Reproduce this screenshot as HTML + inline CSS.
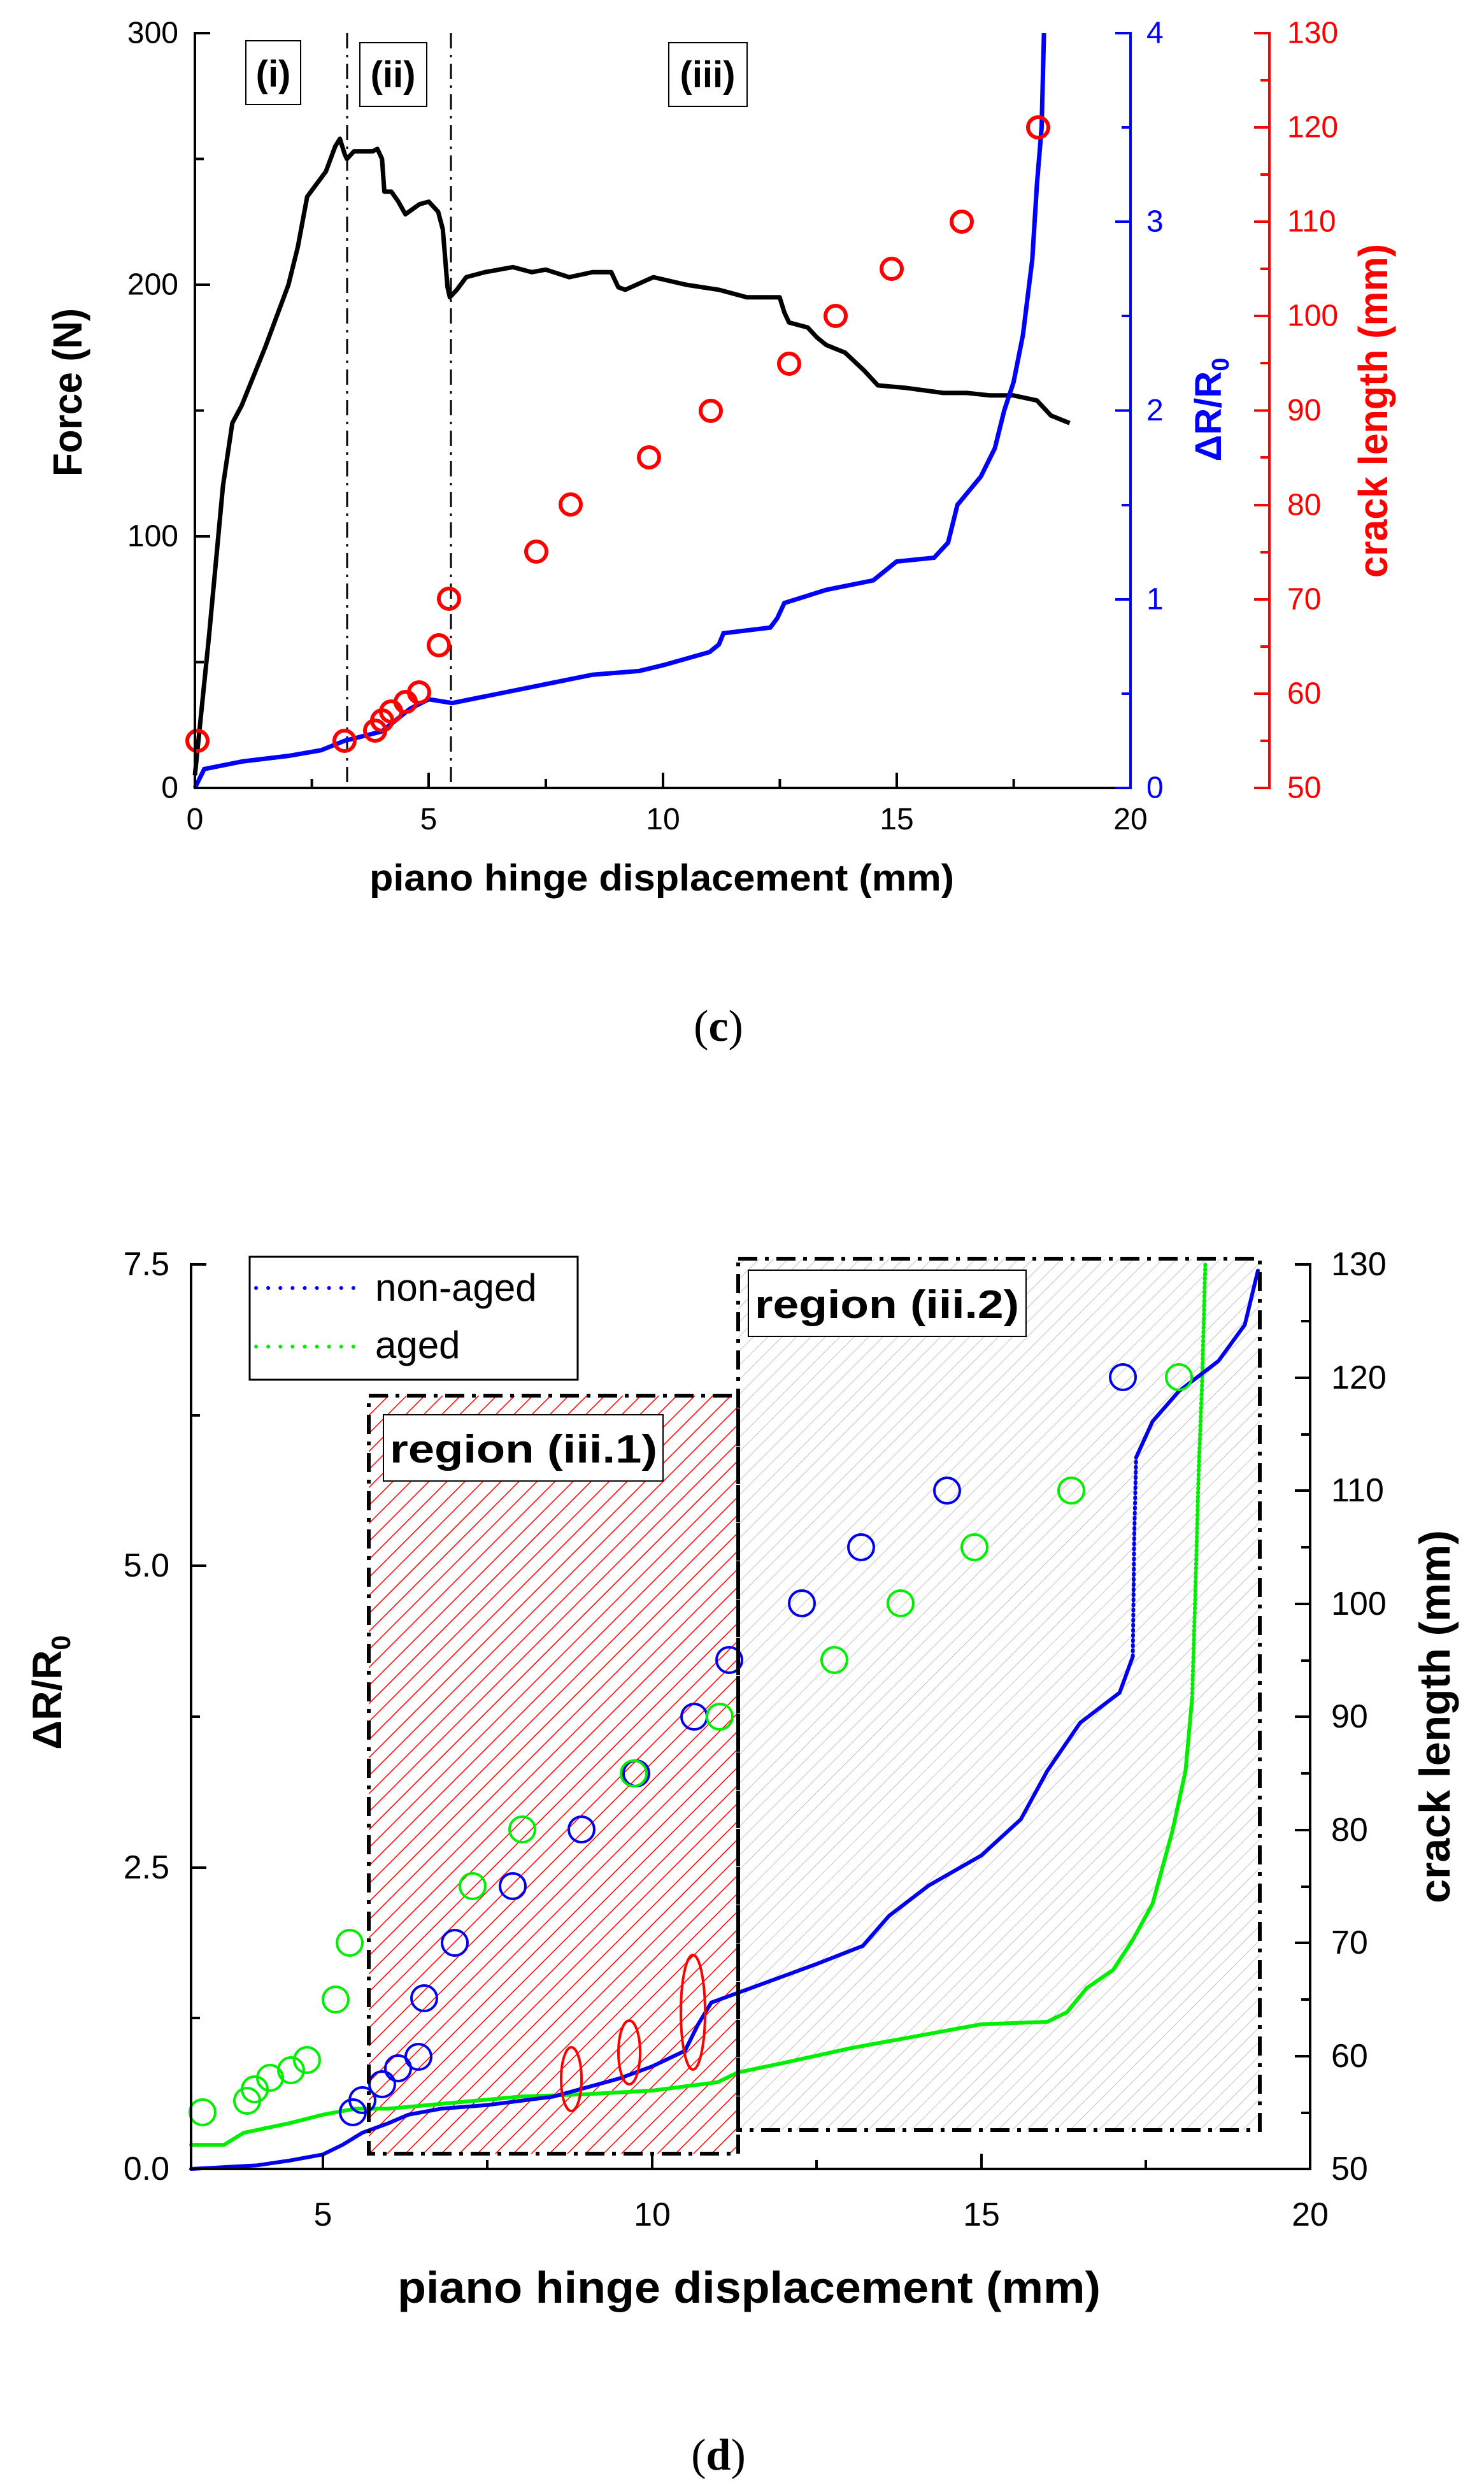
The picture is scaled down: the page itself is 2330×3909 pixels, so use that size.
<!DOCTYPE html>
<html><head><meta charset="utf-8"><style>html,body{margin:0;padding:0;background:#fff}svg{display:block}</style></head>
<body>
<svg width="2330" height="3909" viewBox="0 0 2330 3909" xmlns="http://www.w3.org/2000/svg" font-family="Liberation Sans, Arial, sans-serif">
<defs>
<pattern id="hr" width="20" height="20" patternUnits="userSpaceOnUse" patternTransform="rotate(45)"><line x1="0" y1="0" x2="0" y2="20" stroke="#ff0000" stroke-width="3"/></pattern>
<pattern id="hg" width="16" height="16" patternUnits="userSpaceOnUse" patternTransform="rotate(45)"><line x1="0" y1="0" x2="0" y2="16" stroke="#b4b4b4" stroke-width="1.6"/></pattern>
</defs>
<rect width="2330" height="3909" fill="#fff"/>

<!-- ================= CHART C ================= -->
<line x1="545" y1="52" x2="545" y2="1237" stroke="#000" stroke-width="3" stroke-dasharray="24 10 4 10"/>
<line x1="708" y1="52" x2="708" y2="1237" stroke="#000" stroke-width="3" stroke-dasharray="24 10 4 10"/>
<g transform="matrix(73.45 0 0 -3.95 306 1237)">
<polyline fill="none" stroke="#000" stroke-width="7" vector-effect="non-scaling-stroke" stroke-linejoin="round" points="0,5 0.3,60 0.6,120 0.8,145 1.0,152 1.5,175 2.0,200 2.2,215 2.4,235 2.6,240 2.8,245 3.0,255 3.1,258 3.2,252 3.25,250 3.4,253 3.8,253 3.9,254 4.0,250 4.05,237 4.2,237 4.35,233 4.5,228 4.8,232 5.0,233 5.2,229 5.3,222 5.4,199 5.45,195 5.6,198 5.8,203 6.2,205 6.5,206 6.8,207 7.2,205 7.5,206 8.0,203 8.5,205 8.9,205 9.05,199 9.2,198 9.8,203 10.5,200 11.2,198 11.8,195 12.5,195 12.6,189 12.7,185 13.1,183 13.3,179 13.5,176 13.9,173 14.3,166 14.6,160 15.2,159 16,157 16.5,157 17,156 17.5,156 18,154 18.3,148 18.7,145"/>
</g>
<g transform="matrix(73.45 0 0 -296.25 306 1237)">
<polyline fill="none" stroke="#0000ff" stroke-width="7" vector-effect="non-scaling-stroke" points="0,0 0.2,0.1 1,0.14 2,0.17 2.7,0.2 3.2,0.25 4,0.3 4.6,0.42 5.0,0.47 5.5,0.45 6.5,0.5 7.5,0.55 8.5,0.6 9.5,0.62 10,0.65 11,0.72 11.2,0.76 11.3,0.82 12.3,0.85 12.45,0.9 12.6,0.98 13.5,1.05 14.5,1.1 14.7,1.14 15.0,1.2 15.8,1.22 16.1,1.3 16.3,1.5 16.8,1.65 17.1,1.8 17.3,2.0 17.5,2.15 17.7,2.4 17.9,2.8 18.0,3.2 18.1,3.5 18.15,4.0"/>
</g>
<g fill="none" stroke="#ff0000" stroke-width="6">
<circle cx="310" cy="1163" r="16"/><circle cx="541" cy="1163" r="16"/><circle cx="589" cy="1147" r="16"/><circle cx="600" cy="1131" r="16"/><circle cx="614" cy="1117" r="16"/><circle cx="637" cy="1102" r="16"/><circle cx="658" cy="1087" r="16"/><circle cx="689" cy="1013" r="16"/><circle cx="705" cy="940" r="16"/><circle cx="842" cy="866" r="16"/><circle cx="896" cy="792" r="16"/><circle cx="1019" cy="718" r="16"/><circle cx="1116" cy="645" r="16"/><circle cx="1239" cy="571" r="16"/><circle cx="1312" cy="496" r="16"/><circle cx="1400" cy="422" r="16"/><circle cx="1510" cy="348" r="16"/><circle cx="1630" cy="200" r="16"/>
</g>
<g stroke="#000" stroke-width="4" fill="none">
<line x1="306" y1="50" x2="306" y2="1239"/>
<line x1="304" y1="1237" x2="1775" y2="1237"/>
<path d="M306 52h24M306 447h24M306 842h24M306 1237h24M306 249.5h14M306 644.5h14M306 1039.5h14"/>
<path d="M306 1237v-24M673 1237v-24M1041 1237v-24M1408 1237v-24M1775 1237v-24M489.6 1237v-14M857 1237v-14M1224.4 1237v-14M1591.6 1237v-14"/>
</g>
<g stroke="#0000ff" stroke-width="4" fill="none">
<line x1="1775" y1="50" x2="1775" y2="1239"/>
<path d="M1775 52h-24M1775 348h-24M1775 644.5h-24M1775 941h-24M1775 1237h-24M1775 200h-14M1775 496h-14M1775 793h-14M1775 1089h-14"/>
</g>
<g stroke="#ff0000" stroke-width="4" fill="none">
<line x1="1993" y1="50" x2="1993" y2="1239"/>
<path d="M1993 52h-24M1993 200h-24M1993 348h-24M1993 496h-24M1993 644.5h-24M1993 793h-24M1993 941h-24M1993 1089h-24M1993 1237h-24M1993 126h-14M1993 274h-14M1993 422h-14M1993 570h-14M1993 718h-14M1993 867h-14M1993 1015h-14M1993 1163h-14"/>
</g>
<g font-size="48" fill="#000" text-anchor="end" dominant-baseline="central">
<text x="280" y="52">300</text><text x="280" y="447">200</text><text x="280" y="842">100</text><text x="280" y="1237">0</text>
</g>
<g font-size="48" fill="#000" text-anchor="middle">
<text x="306" y="1302">0</text><text x="673" y="1302">5</text><text x="1041" y="1302">10</text><text x="1408" y="1302">15</text><text x="1775" y="1302">20</text>
</g>
<g font-size="48" fill="#0000ff" dominant-baseline="central">
<text x="1800" y="52">4</text><text x="1800" y="348">3</text><text x="1800" y="644.5">2</text><text x="1800" y="941">1</text><text x="1800" y="1237">0</text>
</g>
<g font-size="48" fill="#ff0000" dominant-baseline="central">
<text x="2021" y="52">130</text><text x="2021" y="200">120</text><text x="2021" y="348">110</text><text x="2021" y="496">100</text><text x="2021" y="644.5">90</text><text x="2021" y="793">80</text><text x="2021" y="941">70</text><text x="2021" y="1089">60</text><text x="2021" y="1237">50</text>
</g>
<g fill="#fff" stroke="#000" stroke-width="2">
<rect x="386" y="64" width="86" height="100"/><rect x="565" y="67" width="105" height="100"/><rect x="1050" y="67" width="123" height="100"/>
</g>
<g font-size="58" font-weight="bold" text-anchor="middle">
<text x="429" y="136">(i)</text><text x="617" y="137">(ii)</text><text x="1111" y="137">(iii)</text>
</g>
<text x="580" y="1398" font-size="58" font-weight="bold" textLength="918" lengthAdjust="spacingAndGlyphs">piano hinge displacement (mm)</text>
<text transform="translate(128,616) rotate(-90)" font-size="64" font-weight="bold" text-anchor="middle" textLength="264" lengthAdjust="spacingAndGlyphs">Force (N)</text>
<text transform="translate(1917,643) rotate(-90)" font-size="58" font-weight="bold" fill="#0000ff" text-anchor="middle">ΔR/R<tspan font-size="38" dy="12">0</tspan></text>
<text transform="translate(2178,645) rotate(-90)" font-size="64" font-weight="bold" fill="#ff0000" text-anchor="middle" textLength="524" lengthAdjust="spacingAndGlyphs">crack length (mm)</text>
<text x="1128" y="1634" font-size="70" font-family="Liberation Serif, serif" text-anchor="middle">(<tspan font-weight="bold">c</tspan>)</text>

<!-- ================= CHART D ================= -->
<rect x="579" y="2191" width="580" height="1190" fill="url(#hr)"/>
<rect x="1159" y="1976" width="819" height="1368" fill="url(#hg)"/>
<g transform="matrix(103.4 0 0 -189.3 -10.2 3405)" fill="none" stroke-linecap="round">
<polyline stroke="#00ee00" stroke-width="6" vector-effect="non-scaling-stroke" stroke-dasharray="2 5" points="18.4,7.5 18.35,6.5 18.3,5.8 18.25,4.8 18.2,3.9"/>
<polyline stroke="#00ee00" stroke-width="6" vector-effect="non-scaling-stroke" points="3,0.2 3.5,0.2 3.8,0.3 4.5,0.38 5,0.45 5.5,0.5 6,0.5 7,0.55 8,0.6 9,0.62 10,0.65 11,0.72 11.3,0.8 12,0.88 13,1.0 14,1.1 15,1.2 16,1.22 16.3,1.3 16.6,1.5 17,1.65 17.3,1.9 17.6,2.2 17.9,2.8 18.1,3.3 18.2,3.9"/>
<polyline stroke="#0000ee" stroke-width="6" vector-effect="non-scaling-stroke" points="3,0 4,0.03 4.5,0.07 5,0.12 5.3,0.2 5.6,0.3 6,0.38 6.3,0.45 6.8,0.5 7.5,0.53 8.5,0.6 9.5,0.75 10,0.85 10.5,0.98 10.7,1.2 10.9,1.38 11.5,1.5 12.5,1.7 13.2,1.85 13.6,2.1 14.2,2.35 15,2.6 15.6,2.9 16,3.3 16.5,3.7 17.1,3.95 17.3,4.25"/>
<polyline stroke="#0000ee" stroke-width="6" vector-effect="non-scaling-stroke" stroke-dasharray="2 6" points="17.3,4.25 17.32,5.2 17.35,5.9"/>
<polyline stroke="#0000ee" stroke-width="6" vector-effect="non-scaling-stroke" points="17.35,5.9 17.6,6.2 18,6.45 18.6,6.7 19,7.0 19.2,7.45"/>
</g>
<g fill="none" stroke="#0000ee" stroke-width="4">
<circle cx="554" cy="3316" r="20"/><circle cx="569" cy="3297" r="20"/><circle cx="600" cy="3272" r="20"/><circle cx="625" cy="3247" r="20"/><circle cx="657" cy="3229" r="20"/><circle cx="666" cy="3137" r="20"/><circle cx="714" cy="3050" r="20"/><circle cx="805" cy="2961" r="20"/><circle cx="913" cy="2872" r="20"/><circle cx="999" cy="2784" r="20"/><circle cx="1090" cy="2695" r="20"/><circle cx="1145" cy="2606" r="20"/><circle cx="1259" cy="2517" r="20"/><circle cx="1352" cy="2429" r="20"/><circle cx="1487" cy="2340" r="20"/><circle cx="1763" cy="2162" r="20"/>
</g>
<g fill="none" stroke="#00ee00" stroke-width="4">
<circle cx="318" cy="3316" r="20"/><circle cx="388" cy="3298" r="20"/><circle cx="400" cy="3280" r="20"/><circle cx="424" cy="3262" r="20"/><circle cx="457" cy="3250" r="20"/><circle cx="482" cy="3234" r="20"/><circle cx="527" cy="3139" r="20"/><circle cx="549" cy="3050" r="20"/><circle cx="742" cy="2961" r="20"/><circle cx="820" cy="2872" r="20"/><circle cx="995" cy="2784" r="20"/><circle cx="1130" cy="2695" r="20"/><circle cx="1310" cy="2606" r="20"/><circle cx="1414" cy="2517" r="20"/><circle cx="1530" cy="2429" r="20"/><circle cx="1682" cy="2340" r="20"/><circle cx="1851" cy="2162" r="20"/>
</g>
<g fill="none" stroke="#ff0000" stroke-width="4">
<ellipse cx="897" cy="3264" rx="16" ry="50"/><ellipse cx="988" cy="3222" rx="17" ry="50"/><ellipse cx="1088" cy="3159" rx="19" ry="90"/>
</g>
<g fill="none" stroke="#000" stroke-width="6" stroke-dasharray="30 12 6 12">
<rect x="579" y="2191" width="580" height="1190"/>
<rect x="1159" y="1976" width="819" height="1368"/>
</g>
<rect x="602" y="2221" width="439" height="104" fill="#fff" stroke="#000" stroke-width="2"/>
<text x="612" y="2296" font-size="62" font-weight="bold" textLength="420" lengthAdjust="spacingAndGlyphs">region (iii.1)</text>
<rect x="1175" y="1994" width="436" height="104" fill="#fff" stroke="#000" stroke-width="2"/>
<text x="1185" y="2069" font-size="62" font-weight="bold" textLength="415" lengthAdjust="spacingAndGlyphs">region (iii.2)</text>
<rect x="392" y="1973" width="515" height="193" fill="#fff" stroke="#000" stroke-width="3"/>
<line x1="402" y1="2022" x2="565" y2="2022" stroke="#0000ee" stroke-width="6" stroke-linecap="round" stroke-dasharray="0.1 19"/>
<line x1="402" y1="2114" x2="565" y2="2114" stroke="#00ee00" stroke-width="6" stroke-linecap="round" stroke-dasharray="0.1 19"/>
<text x="589" y="2042" font-size="60">non-aged</text>
<text x="589" y="2132" font-size="60">aged</text>
<g stroke="#000" stroke-width="4" fill="none">
<line x1="300" y1="1983" x2="300" y2="3407"/>
<line x1="298" y1="3405" x2="2057" y2="3405"/>
<line x1="2057" y1="1983" x2="2057" y2="3407"/>
<path d="M300 1985h24M300 2458h24M300 2932h24M300 3405h24M300 2222h14M300 2695h14M300 3168h14"/>
<path d="M507 3405v-24M1024 3405v-24M1541 3405v-24M2057 3405v-24M765 3405v-14M1282 3405v-14M1799 3405v-14"/>
<path d="M2057 1985h-24M2057 2163h-24M2057 2340h-24M2057 2518h-24M2057 2695h-24M2057 2873h-24M2057 3050h-24M2057 3228h-24M2057 3405h-24M2057 2074h-14M2057 2252h-14M2057 2429h-14M2057 2607h-14M2057 2784h-14M2057 2962h-14M2057 3139h-14M2057 3317h-14"/>
</g>
<g font-size="52" text-anchor="end" dominant-baseline="central">
<text x="266" y="1985">7.5</text><text x="266" y="2458">5.0</text><text x="266" y="2932">2.5</text><text x="266" y="3405">0.0</text>
</g>
<g font-size="52" text-anchor="middle" dominant-baseline="central">
<text x="507" y="3477">5</text><text x="1024" y="3477">10</text><text x="1541" y="3477">15</text><text x="2057" y="3477">20</text>
</g>
<g font-size="52" dominant-baseline="central">
<text x="2090" y="1985">130</text><text x="2090" y="2163">120</text><text x="2090" y="2340">110</text><text x="2090" y="2518">100</text><text x="2090" y="2695">90</text><text x="2090" y="2873">80</text><text x="2090" y="3050">70</text><text x="2090" y="3228">60</text><text x="2090" y="3405">50</text>
</g>
<text x="624" y="3615" font-size="70" font-weight="bold" textLength="1104" lengthAdjust="spacingAndGlyphs">piano hinge displacement (mm)</text>
<text transform="translate(96,2657) rotate(-90)" font-size="64" font-weight="bold" text-anchor="middle">ΔR/R<tspan font-size="42" dy="14">0</tspan></text>
<text transform="translate(2276,2695) rotate(-90)" font-size="68" font-weight="bold" text-anchor="middle">crack length (mm)</text>
<text x="1128" y="3877" font-size="70" font-family="Liberation Serif, serif" text-anchor="middle">(<tspan font-weight="bold">d</tspan>)</text>
</svg>
</body></html>
